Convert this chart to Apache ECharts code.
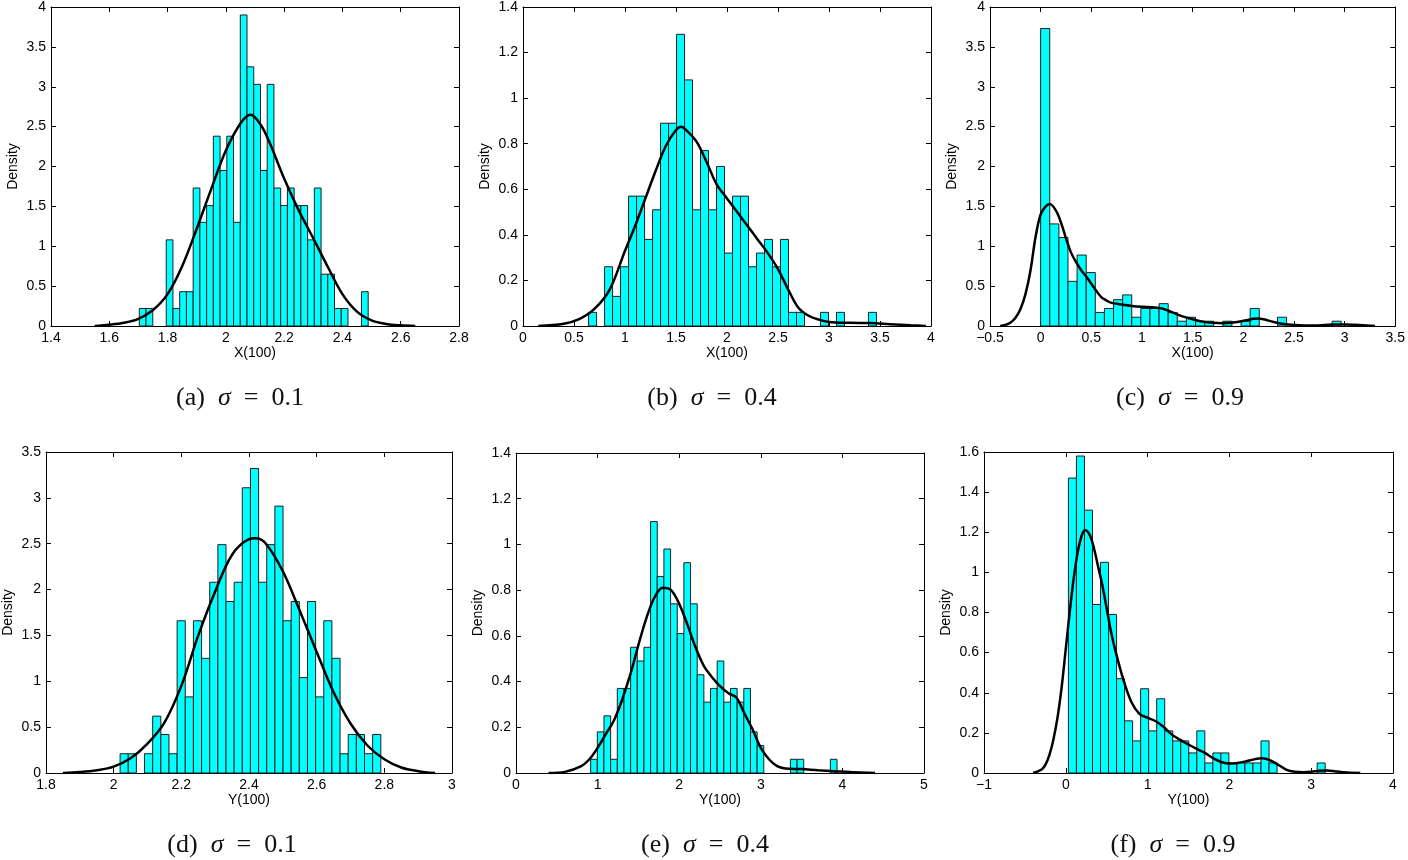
<!DOCTYPE html>
<html><head><meta charset="utf-8">
<script src="https://cdn.jsdelivr.net/npm/echarts@6/dist/echarts.min.js"></script>
<style>html,body{margin:0;padding:0;background:#fff}#c{width:1408px;height:860px}</style>
</head><body><div id="c"></div>
<script>
// ---------- (a) sigma = 0.1, X(100) ----------
const aBinStart = 1.703, aBinWidth = 0.0231;
const aDensity = [0.22,0.22,0,0,1.08,0.22,0.43,0.43,1.73,1.30,1.51,2.38,1.95,2.38,1.30,3.90,3.25,3.03,1.95,3.03,1.73,1.51,1.73,1.51,1.51,1.08,1.73,0.65,0.65,0.22,0.22,0,0,0.43];
const aCurveX = [1.55,1.6,1.65,1.7,1.75,1.8,1.85,1.9,1.95,2.0,2.05,2.085,2.12,2.15,2.2,2.25,2.3,2.35,2.4,2.45,2.5,2.55,2.6,2.65];
const aCurveY = [0.0,0.015,0.04,0.09,0.2,0.4,0.75,1.22,1.72,2.2,2.54,2.65,2.52,2.3,1.85,1.45,1.1,0.74,0.4,0.18,0.07,0.025,0.008,0.0];

// ---------- (b) sigma = 0.4, X(100) ----------
const bBinStart = 0.643, bBinWidth = 0.0784;
const bDensity = [0.06,0,0.26,0.13,0.26,0.57,0.57,0.38,0.51,0.89,0.89,1.28,1.08,0.51,0.77,0.51,0.70,0.32,0.57,0.57,0.26,0.32,0.38,0.26,0.38,0.06,0.06,0,0,0.06,0,0.06,0,0,0,0.06];
const bCurveX = [0.15,0.4,0.55,0.7,0.85,1.0,1.1,1.2,1.3,1.4,1.5,1.55,1.6,1.7,1.8,1.9,2.0,2.1,2.2,2.3,2.4,2.5,2.6,2.7,2.8,2.9,3.0,3.2,3.4,3.6,3.8,3.95];
const bCurveY = [0,0.01,0.03,0.075,0.16,0.33,0.44,0.56,0.68,0.79,0.86,0.875,0.86,0.81,0.72,0.62,0.56,0.50,0.44,0.38,0.32,0.25,0.16,0.08,0.045,0.028,0.018,0.014,0.013,0.008,0.003,0];

// ---------- (c) sigma = 0.9, X(100) ----------
const cBinStart = 0.0, cBinWidth = 0.0899;
const cDensity = [3.73,1.28,1.11,0.56,0.89,0.67,0.17,0.22,0.33,0.39,0.11,0.22,0.22,0.28,0.17,0.06,0.11,0.06,0.06,0,0.06,0,0.06,0.22,0,0,0.11,0,0,0,0,0,0.06];
const cCurveX = [-0.4,-0.35,-0.3,-0.25,-0.2,-0.15,-0.1,-0.05,0.0,0.05,0.09,0.15,0.2,0.25,0.3,0.35,0.4,0.45,0.5,0.55,0.6,0.65,0.7,0.8,0.9,1.0,1.1,1.2,1.3,1.4,1.5,1.6,1.7,1.8,1.9,2.0,2.1,2.15,2.2,2.3,2.4,2.5,2.6,2.7,2.8,2.9,3.0,3.1,3.3];
const cCurveY = [0.0,0.012,0.04,0.1,0.21,0.4,0.7,1.12,1.4,1.5,1.53,1.45,1.3,1.1,0.92,0.8,0.7,0.62,0.53,0.44,0.36,0.32,0.29,0.27,0.25,0.24,0.235,0.22,0.17,0.12,0.085,0.055,0.04,0.035,0.045,0.065,0.09,0.095,0.085,0.05,0.025,0.012,0.006,0.007,0.012,0.018,0.02,0.015,0.0];

// ---------- (d) sigma = 0.1, Y(100) ----------
const dBinStart = 2.019, dBinWidth = 0.02408;
const dDensity = [0.21,0.21,0,0.21,0.62,0.42,0.21,1.66,0.83,1.66,1.25,2.08,2.49,1.87,2.08,3.11,3.32,2.08,2.49,2.91,1.66,1.87,1.04,1.87,0.83,1.66,1.25,0.21,0.42,0.42,0.21,0.42];
const dCurveX = [1.85,1.9,1.95,2.0,2.05,2.1,2.15,2.2,2.25,2.3,2.35,2.4,2.42,2.45,2.5,2.55,2.6,2.65,2.7,2.75,2.8,2.85,2.9,2.95];
const dCurveY = [0.0,0.01,0.03,0.07,0.16,0.32,0.55,0.95,1.5,1.98,2.38,2.55,2.56,2.5,2.2,1.77,1.32,0.88,0.54,0.3,0.15,0.06,0.02,0.0];

// ---------- (e) sigma = 0.4, Y(100) ----------
const eBinStart = 0.915, eBinWidth = 0.0816;
const eDensity = [0.06,0.18,0.25,0.06,0.37,0.37,0.55,0.49,0.55,1.10,0.86,0.98,0.74,0.61,0.92,0.74,0.43,0.31,0.37,0.49,0.31,0.37,0.31,0.37,0.18,0.12,0,0,0,0,0.06,0.06,0,0,0,0,0.06];
const eCurveX = [0.4,0.6,0.8,0.9,1.0,1.1,1.2,1.3,1.4,1.5,1.6,1.7,1.8,1.9,2.0,2.1,2.2,2.3,2.4,2.5,2.6,2.7,2.8,2.9,3.0,3.1,3.2,3.3,3.5,3.7,3.9,4.1,4.4];
const eCurveY = [0,0.005,0.03,0.06,0.11,0.17,0.23,0.32,0.43,0.56,0.68,0.77,0.81,0.80,0.74,0.65,0.55,0.47,0.42,0.38,0.35,0.33,0.26,0.19,0.11,0.06,0.03,0.02,0.017,0.012,0.008,0.004,0];

// ---------- (f) sigma = 0.9, Y(100) ----------
const fBinStart = 0.032, fBinWidth = 0.0981;
const fDensity = [1.47,1.58,1.31,0.84,1.05,0.79,0.47,0.26,0.16,0.42,0.21,0.37,0.21,0.16,0.16,0.10,0.21,0.05,0.10,0.10,0.05,0.05,0.05,0.05,0.16,0.05,0,0,0,0,0,0.05];
const fCurveX = [-0.4,-0.3,-0.25,-0.2,-0.15,-0.1,-0.05,0.0,0.05,0.1,0.15,0.2,0.24,0.3,0.35,0.4,0.45,0.5,0.55,0.6,0.7,0.8,0.9,1.0,1.1,1.2,1.3,1.4,1.5,1.6,1.7,1.8,1.9,2.0,2.1,2.2,2.3,2.4,2.5,2.6,2.7,2.8,2.9,3.0,3.1,3.2,3.3,3.4,3.6];
const fCurveY = [0,0.016,0.04,0.09,0.17,0.28,0.43,0.62,0.81,0.98,1.11,1.19,1.21,1.18,1.11,1.02,0.93,0.82,0.71,0.62,0.47,0.355,0.295,0.275,0.258,0.228,0.19,0.165,0.142,0.12,0.1,0.074,0.055,0.047,0.05,0.058,0.068,0.073,0.063,0.04,0.016,0.006,0.004,0.006,0.011,0.013,0.008,0.004,0];

// ---------- axes / captions ----------
const xTitles = ['X(100)','X(100)','X(100)','Y(100)','Y(100)','Y(100)'];
const captions = ['(a)','(b)','(c)','(d)','(e)','(f)'];
const sigmas = ['0.1','0.4','0.9','0.1','0.4','0.9'];
const xRanges = [[1.4,2.8,0.2],[0,4,0.5],[-0.5,3.5,0.5],[1.8,3,0.2],[0,5,1],[-1,4,1]];
const yRanges = [[0,4,0.5],[0,1.4,0.2],[0,4,0.5],[0,3.5,0.5],[0,1.4,0.2],[0,1.6,0.2]];

const panels = [
  [aBinStart,aBinWidth,aDensity,aCurveX,aCurveY],
  [bBinStart,bBinWidth,bDensity,bCurveX,bCurveY],
  [cBinStart,cBinWidth,cDensity,cCurveX,cCurveY],
  [dBinStart,dBinWidth,dDensity,dCurveX,dCurveY],
  [eBinStart,eBinWidth,eDensity,eCurveX,eCurveY],
  [fBinStart,fBinWidth,fDensity,fCurveX,fCurveY]
];

// layout (pixels)
const grids = [
  {left:51, top:5, width:408, height:321},
  {left:523, top:5, width:408, height:321},
  {left:990, top:5, width:408, height:321},
  {left:44, top:452, width:408, height:321},
  {left:516, top:453, width:408, height:320},
  {left:984, top:452, width:409, height:321}
];
const captionPos = [[240,385],[712,385],[1180,385],[232,832],[705,832],[1173,832]];

const FONT = 'Liberation Sans';
const fmt = v => String(+(+v).toFixed(6)).replace('-', '\u2212');

const option = {
  animation:false,
  backgroundColor:'#fff',
  grid: grids.map(g => Object.assign({containLabel:false}, g)),
  title: captions.map((c,i)=>({
    text: c + '  {s|σ}  =  ' + sigmas[i],
    left: captionPos[i][0], top: captionPos[i][1], textAlign:'center', padding:0,
    textStyle:{fontFamily:'Liberation Serif', fontSize:26, fontWeight:'normal', color:'#111',
      rich:{s:{fontFamily:'Liberation Serif', fontSize:26, fontStyle:'italic', color:'#111'}}}
  })),
  xAxis: [], yAxis: [], series: []
};

panels.forEach((p,i)=>{
  const [bs,bw,dens,cx,cy] = p;
  const xr = xRanges[i], yr = yRanges[i];
  const common = {type:'value', gridIndex:i, splitLine:{show:false},
    axisLine:{show:true, onZero:false, lineStyle:{color:'#000', width:1}},
    axisTick:{show:true, inside:true, length:5, lineStyle:{color:'#000', width:1}}};
  option.xAxis.push(Object.assign({}, common, {
    position:'bottom', min:xr[0], max:xr[1], interval:xr[2],
    name: xTitles[i], nameLocation:'middle', nameGap:20,
    nameTextStyle:{fontFamily:FONT, fontSize:14, color:'#000'},
    axisLabel:{show:true, margin:5, fontFamily:FONT, fontSize:14, color:'#000', formatter:fmt, showMinLabel:true, showMaxLabel:true, hideOverlap:false}
  }));
  option.xAxis.push(Object.assign({}, common, {
    position:'top', min:xr[0], max:xr[1], interval:xr[2], axisLabel:{show:false}
  }));
  option.yAxis.push(Object.assign({}, common, {
    position:'left', min:yr[0], max:yr[1], interval:yr[2],
    name:'Density', nameLocation:'middle', nameGap:31,
    nameTextStyle:{fontFamily:FONT, fontSize:14, color:'#000'},
    axisLabel:{show:true, margin:5, fontFamily:FONT, fontSize:14, color:'#000', formatter:fmt, showMinLabel:true, showMaxLabel:true}
  }));
  option.yAxis.push(Object.assign({}, common, {
    position:'right', min:yr[0], max:yr[1], interval:yr[2], axisLabel:{show:false}
  }));
  const xi = i*2, yi = i*2;
  const bars = dens.map((h,k)=>[bs + k*bw, bs + (k+1)*bw, h]);
  option.series.push({
    type:'custom', xAxisIndex:xi, yAxisIndex:yi, z:2,
    data: bars,
    encode:{x:[0,1], y:2},
    renderItem:function(params, api){
      const h = api.value(2);
      if (!(h > 0)) return null;
      const p0 = api.coord([api.value(0), 0]);
      const p1 = api.coord([api.value(1), h]);
      return {type:'rect', shape:{x:p0[0], y:p1[1], width:p1[0]-p0[0], height:p0[1]-p1[1]},
        style:{fill:'#00ffff', stroke:'#1e1e1e', lineWidth:1}};
    }
  });
  option.series.push({
    type:'line', xAxisIndex:xi, yAxisIndex:yi, z:5,
    data: cx.map((x,k)=>[x, cy[k]]),
    smooth:0.35, showSymbol:false, symbol:'none',
    lineStyle:{color:'#000', width:2.5}
  });
});

const chart = echarts.init(document.getElementById('c'), null, {renderer:'canvas'});
chart.setOption(option);
</script>
</body></html>
